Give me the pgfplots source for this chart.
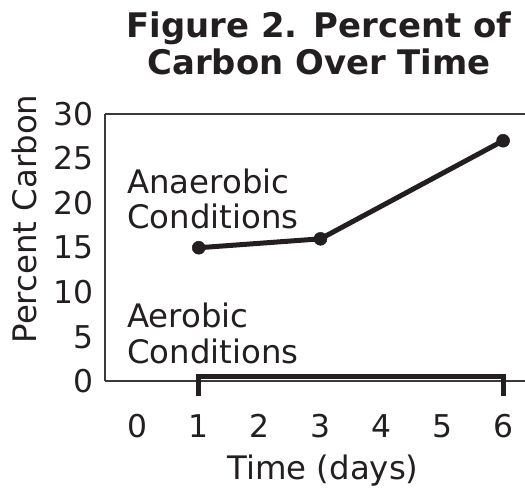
\documentclass[border=0pt]{standalone}
\usepackage{fontspec}
\setmainfont{DejaVu Sans}
\usepackage{pgfplots}
\pgfplotsset{compat=1.18}
\definecolor{ink}{HTML}{231F20}
\definecolor{axisgray}{HTML}{3A3A3A}
\begin{document}
\begin{tikzpicture}[x=1bp,y=1bp]
\path[use as bounding box] (0,0) rectangle (525,489);
\begin{axis}[
  at={(105bp,107.5bp)}, anchor=south west,
  scale only axis, width=420bp, height=267.5bp,
  xmin=-0.54, xmax=6.36, ymin=0, ymax=30,
  axis x line=box, axis y line=left,
  axis line style={axisgray, line width=2bp, -},
  xtick={0,1,2,3,4,5,6}, ytick={0,5,10,15,20,25,30},
  major tick length=0pt,
  tick label style={font=\fontsize{31.5}{37}\selectfont, color=ink},
  /pgf/number format/assume math mode=true,
  xticklabel style={anchor=north, inner sep=0pt, yshift=-33bp},
  yticklabel style={anchor=east, inner sep=0pt, xshift=-11bp},
  clip=false,
]
\addplot[ink, line width=5bp, mark=*, mark size=6.5bp,
  mark options={fill=ink, draw=ink, line width=0.5bp}]
  coordinates {(1,15) (3,16) (6,27)};
\addplot[ink, line width=5bp, line join=miter, mark=none]
  coordinates {(1,-1.6) (1,0.55) (6,0.55) (6,-1.6)};
\end{axis}
\begin{scope}[every node/.style={inner sep=0pt, text=ink, font=\fontsize{32.5}{38}\selectfont}]
\node[anchor=base, font=\fontsize{34}{40}\bfseries] at (319,451) {Figure 2. Percent of};
\node[anchor=base, font=\fontsize{34}{40}\bfseries] at (319,414) {Carbon Over Time};
\node[anchor=base, rotate=90] at (36,270) {Percent Carbon};
\node[anchor=base west] at (127,295) {Anaerobic};
\node[anchor=base west] at (127,260) {Conditions};
\node[anchor=base west] at (127,161) {Aerobic};
\node[anchor=base west] at (127,125) {Conditions};
\node[anchor=base] at (323,9) {Time (days)};
\end{scope}
\end{tikzpicture}
\end{document}
